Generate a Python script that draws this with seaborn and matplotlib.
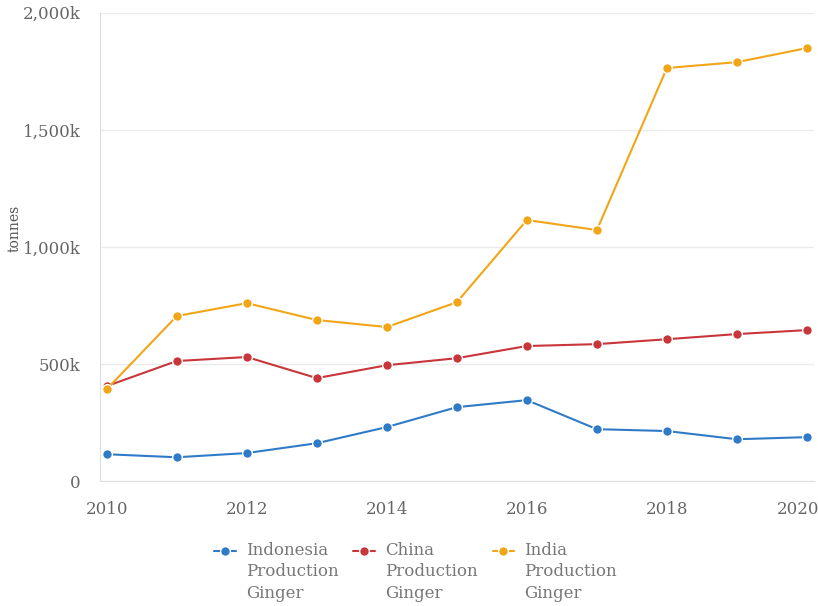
import matplotlib
matplotlib.use("Agg")
import matplotlib.pyplot as plt
import matplotlib.ticker as mticker
import matplotlib.transforms as mtrans
import seaborn as sns
import pandas as pd

years = list(range(2010, 2021))
indonesia = [115, 102, 120, 162, 231, 316, 346, 222, 214, 179, 188]
china = [406, 513, 530, 440, 495, 525, 577, 585, 606, 628, 645]
india = [393, 705, 760, 688, 658, 764, 1115, 1072, 1764, 1789, 1849]
series_names = ["Indonesia\nProduction\nGinger", "China\nProduction\nGinger", "India\nProduction\nGinger"]
colors = ["#2f7bc8", "#c8363b", "#f2a516"]

frames = []
for name, vals in zip(series_names, [indonesia, china, india]):
    frames.append(pd.DataFrame({"year": years, "value": [v * 1000 for v in vals], "series": name}))
df = pd.concat(frames)

sns.set_style("white")
plt.rcParams["font.family"] = ["DejaVu Serif"]

fig = plt.figure(figsize=(8.18, 6.06), dpi=100)
ax = fig.add_axes([0.122, 0.206, 0.873, 0.773])

sns.lineplot(data=df, x="year", y="value", hue="series", palette=colors,
             marker="o", markersize=7, markeredgecolor="white", markeredgewidth=1,
             linewidth=1.5, ax=ax)

ax.set_xlim(2009.9, 2020.1)
ax.set_ylim(0, 2000000)
ax.set_xticks([2010, 2012, 2014, 2016, 2018, 2020])
ax.set_yticks([0, 500000, 1000000, 1500000, 2000000])
ax.yaxis.set_major_formatter(mticker.FuncFormatter(lambda v, p: "0" if v == 0 else f"{v/1000:,.0f}k"))
ax.grid(axis="y", color="#ebebeb", linewidth=1)
ax.set_axisbelow(True)
for s in ["top", "right"]:
    ax.spines[s].set_visible(False)
for s in ["left", "bottom"]:
    ax.spines[s].set_color("#dddddd")
ax.tick_params(axis="x", length=6, color="#dddddd", labelsize=12, labelcolor="#666666", pad=8)
ax.tick_params(axis="y", length=0, labelsize=12, labelcolor="#666666", pad=14)
ax.set_xlabel("")
ax.set_ylabel("tonnes", fontsize=10, color="#555555")
ax.yaxis.set_label_coords(-0.110, 0.54)

# keep last year label inside the figure
last = ax.get_xticklabels()[-1]
last.set_ha("right")
last.set_transform(last.get_transform() + mtrans.ScaledTranslation(9 / 72, 0, fig.dpi_scale_trans))

leg = ax.legend(loc="upper center", bbox_to_anchor=(0.442, -0.097), ncol=3, frameon=False,
                fontsize=12, handlelength=1.3, columnspacing=0.9, handletextpad=0.6)
for t in leg.get_texts():
    t.set_color("#777777")
    t.set_linespacing(1.35)
# move handles up to the first line of each label
for h in leg.legend_handles:
    h.set_ydata([y + 15.5 for y in h.get_ydata()])

fig.savefig("out.png", dpi=100)
